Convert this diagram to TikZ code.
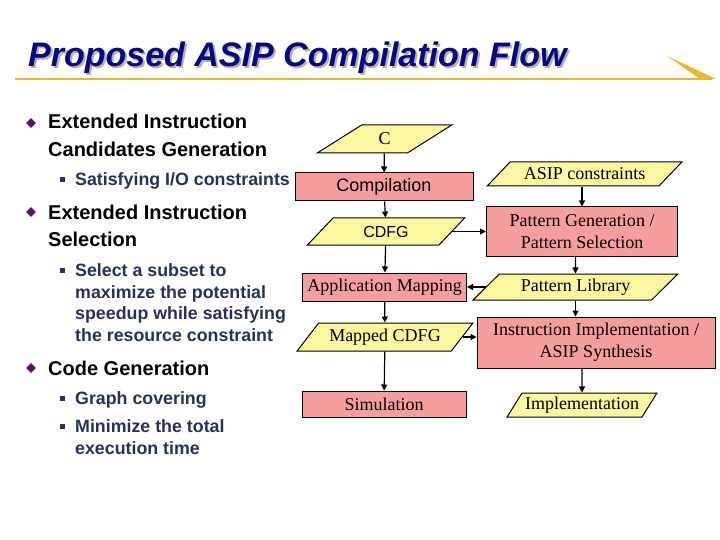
\documentclass[tikz,border=0pt]{standalone}
\usepackage{fontspec}
\setmainfont{Liberation Serif}
\setsansfont{Liberation Sans}
\usetikzlibrary{arrows.meta,shapes.geometric}
\definecolor{boxred}{RGB}{246,158,158}
\definecolor{ioyel}{RGB}{250,247,160}
\definecolor{navy}{RGB}{8,8,128}
\definecolor{subblue}{RGB}{38,48,98}
\definecolor{bulpur}{RGB}{96,16,96}
\definecolor{gold}{RGB}{234,184,48}

\begin{document}
\begin{tikzpicture}[
  x=1pt, y=-1pt,
  >=Triangle,
  box/.style={draw, fill=boxred, line width=1pt, inner sep=0pt, align=center,
    font=\fontsize{18}{22}\selectfont},
  io/.style={draw, fill=ioyel, line width=1pt, trapezium, trapezium stretches,
    trapezium left angle=#1, trapezium right angle=180-#1, inner sep=0pt,
    font=\fontsize{18}{22}\selectfont},
  io/.default=45,
  e/.style={->, line width=1.2pt, >={Triangle[length=6pt,width=6pt]}},
  hd/.style={anchor=base west, inner sep=0pt, align=left,
    font=\sffamily\bfseries\fontsize{20}{28}\selectfont},
  sub/.style={anchor=base west, inner sep=0pt, align=left, text=subblue,
    font=\sffamily\bfseries\fontsize{17.8}{21.5}\selectfont},
  dia/.style={diamond, fill=bulpur, minimum size=10pt, inner sep=0pt},
  sq/.style={fill=subblue, minimum size=5pt, inner sep=0pt}
]
\useasboundingbox (0,0) rectangle (720,540);

% title
\node[anchor=base west, inner sep=0pt, text=black!30,
  font=\sffamily\bfseries\itshape\fontsize{34}{40}\selectfont] (tshadow) at (30,69)
  {Proposed ASIP Compilation Flow};
\node[anchor=base west, inner sep=0pt, text=navy,
  font=\sffamily\bfseries\itshape\fontsize{34}{40}\selectfont] (title) at (28,67)
  {Proposed ASIP Compilation Flow};
\draw[gold, line width=1.5pt] (15,79) -- (712,79);
\fill[gold] (667,56) -- (716,79) -- (700,79) -- cycle;

% bullets (base = last line)
\node[dia] (d1) at (31,123) {};
\node[hd] (h1) at (48,157) {Extended Instruction\\Candidates Generation};
\node[sq] (s1) at (62,180) {};
\node[sub] (t1) at (75,186) {Satisfying I/O constraints};
\node[dia] (d2) at (31,212) {};
\node[hd] (h2) at (48,247) {Extended Instruction\\Selection};
\node[sq] (s2) at (62,270) {};
\node[sub] (t2) at (75,341) {Select a subset to\\maximize the potential\\speedup while satisfying\\the resource constraint};
\node[dia] (d3) at (31,368) {};
\node[hd] (h3) at (48,375) {Code Generation};
\node[sq] (s3) at (62,398) {};
\node[sub] (t3) at (75,404) {Graph covering};
\node[sq] (s4) at (62,426) {};
\node[sub] (t4) at (75,454) {Minimize the total\\execution time};

% flow
\node[io=46, minimum width=135pt, minimum height=28pt] (c) at (384.5,139) {C};
\node[box, minimum width=178pt, minimum height=28pt, font=\sffamily\fontsize{18}{22}\selectfont] (comp) at (384,187) {Compilation};
\node[io=46, minimum width=158pt, minimum height=27pt, font=\sffamily\fontsize{16}{22}\selectfont] (cdfg) at (386,231.5) {CDFG};
\node[box, minimum width=164pt, minimum height=28pt] (am) at (384.5,287) {Application Mapping};
\node[io=42, minimum width=176pt, minimum height=28pt] (mc) at (385,337) {Mapped CDFG};
\node[box, minimum width=164pt, minimum height=26pt] (sim) at (384,404) {Simulation};

\node[io=33, minimum width=195pt, minimum height=24pt] (asip) at (584.5,174) {ASIP constraints};
\node[box, minimum width=191pt, minimum height=49pt] (pg) at (582,231.5) {Pattern Generation /\\Pattern Selection};
\node[io=41, minimum width=205pt, minimum height=26pt] (pl) at (575.5,287) {Pattern Library};
\node[box, minimum width=238pt, minimum height=51pt] (ii) at (596,342.5) {Instruction Implementation /\\ASIP Synthesis};
\node[io=49, minimum width=150pt, minimum height=24pt] (impl) at (582,405) {Implementation};

\draw[e] (c) -- (comp);
\draw[e] (comp) -- (cdfg);
\draw[e] (cdfg) -- (am);
\draw[e] (am) -- (mc);
\draw[e] (mc) -- (sim);
\draw[e] (cdfg.east) -- (pg.west |- cdfg.east);
\draw[e] (pl.west) -- (am.east |- pl.west);
\draw[e] (mc.east) -- (ii.west |- mc.east);
\draw[e] (asip.south -| pg) -- (pg);
\draw[e] (pg.south -| pl) -- (pl);
\draw[e] (pl.south) -- (pl.south |- ii.north);
\draw[e] (ii.south -| impl) -- (impl);
\end{tikzpicture}
\end{document}
